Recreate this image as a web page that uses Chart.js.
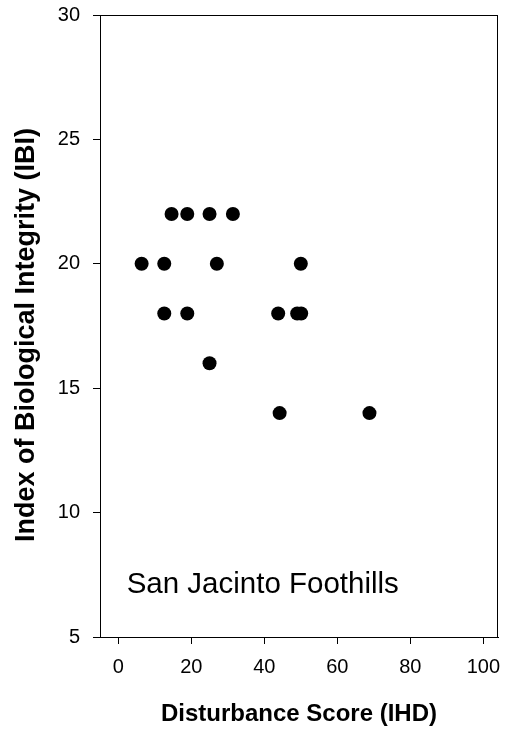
<!DOCTYPE html>
<html>
<head>
<meta charset="utf-8">
<script src="https://cdn.jsdelivr.net/npm/chart.js@4/dist/chart.umd.min.js"></script>
<style>
  html, body { margin: 0; padding: 0; background: #fff; }
  #wrap { width: 506px; height: 736px; position: relative; }
</style>
</head>
<body>
<div id="wrap"><canvas id="myChart"></canvas></div>
<script>
// data
const disturbance = [14.6, 18.9, 25.0, 31.4, 6.4, 12.6, 27.0, 50.0, 12.6, 18.9, 43.8, 49.0, 50.1, 25.0, 44.2, 68.8];
const ibi = [22, 22, 22, 22, 20, 20, 20, 20, 18, 18, 18, 18, 18, 16, 14, 14];
const xTicks = [0, 20, 40, 60, 80, 100];
const yTicks = [5, 10, 15, 20, 25, 30];

const siteName = 'San Jacinto Foothills';
const xTitle = 'Disturbance Score (IHD)';
const yTitle = 'Index of Biological Integrity (IBI)';

const fontFamily = '"Liberation Sans", Arial, sans-serif';

let points = [];
for (let i = 0; i < disturbance.length; i++) {
    points.push({ x: disturbance[i], y: ibi[i] });
}

//no extra room for tick labels, the layout padding handles that
function noLabelPadding(scale) {
    scale.paddingTop = 0;
    scale.paddingBottom = 0;
    scale.paddingLeft = 0;
    scale.paddingRight = 0;
}

//draws the frame around the plot, the y title and the site name
const framePlugin = {
    id: 'frame',
    afterDraw(chart) {
        const ctx = chart.ctx;
        const a = chart.chartArea;
        ctx.save();
        ctx.strokeStyle = '#000';
        ctx.lineWidth = 1;
        ctx.strokeRect(a.left + 0.5, a.top + 0.5, a.right - a.left - 1, a.bottom - a.top);

        ctx.fillStyle = '#000';
        ctx.font = '29.5px ' + fontFamily;
        ctx.textAlign = 'left';
        ctx.textBaseline = 'alphabetic';
        ctx.fillText(siteName, chart.scales.x.getPixelForValue(2.3), chart.scales.y.getPixelForValue(6.75));

        //y title, sits a little below the middle of the axis in the original
        ctx.font = 'bold 27px ' + fontFamily;
        ctx.textAlign = 'center';
        ctx.textBaseline = 'middle';
        ctx.translate(27, 335);
        ctx.rotate(-Math.PI / 2);
        ctx.fillText(yTitle, 0, 0);
        ctx.restore();
    }
};

const config = {
    type: 'scatter',
    data: {
        datasets: [{
            data: points,
            backgroundColor: '#000',
            borderColor: '#000',
            borderWidth: 0,
            pointRadius: 7,
            pointHoverRadius: 7
        }]
    },
    options: {
        responsive: true,
        maintainAspectRatio: false,
        animation: false,
        layout: { padding: { top: 15, right: 8, left: 0, bottom: 0 } },
        plugins: {
            legend: { display: false },
            tooltip: { enabled: false }
        },
        scales: {
            x: {
                type: 'linear',
                min: -5,
                max: 104,
                afterBuildTicks: (scale) => { scale.ticks = xTicks.map(v => ({ value: v })); },
                afterFit: (scale) => { scale.height = 99; noLabelPadding(scale); },
                grid: { drawOnChartArea: false, tickLength: 7, tickColor: '#000', color: '#000' },
                border: { color: '#000', width: 1 },
                ticks: { color: '#000', padding: 11, font: { family: fontFamily, size: 20 } },
                title: {
                    display: true,
                    text: xTitle,
                    color: '#000',
                    padding: { top: 0, bottom: 7 },
                    font: { family: fontFamily, size: 24, weight: 'bold' }
                }
            },
            y: {
                type: 'linear',
                min: 5,
                max: 30,
                afterBuildTicks: (scale) => { scale.ticks = yTicks.map(v => ({ value: v })); },
                afterFit: (scale) => { scale.width = 100; noLabelPadding(scale); },
                grid: { drawOnChartArea: false, tickLength: 7, tickColor: '#000', color: '#000' },
                border: { color: '#000', width: 1 },
                ticks: { color: '#000', padding: 13, font: { family: fontFamily, size: 20 } },
                title: { display: false }
            }
        }
    },
    plugins: [framePlugin]
};

new Chart(document.getElementById('myChart'), config);
</script>
</body>
</html>
